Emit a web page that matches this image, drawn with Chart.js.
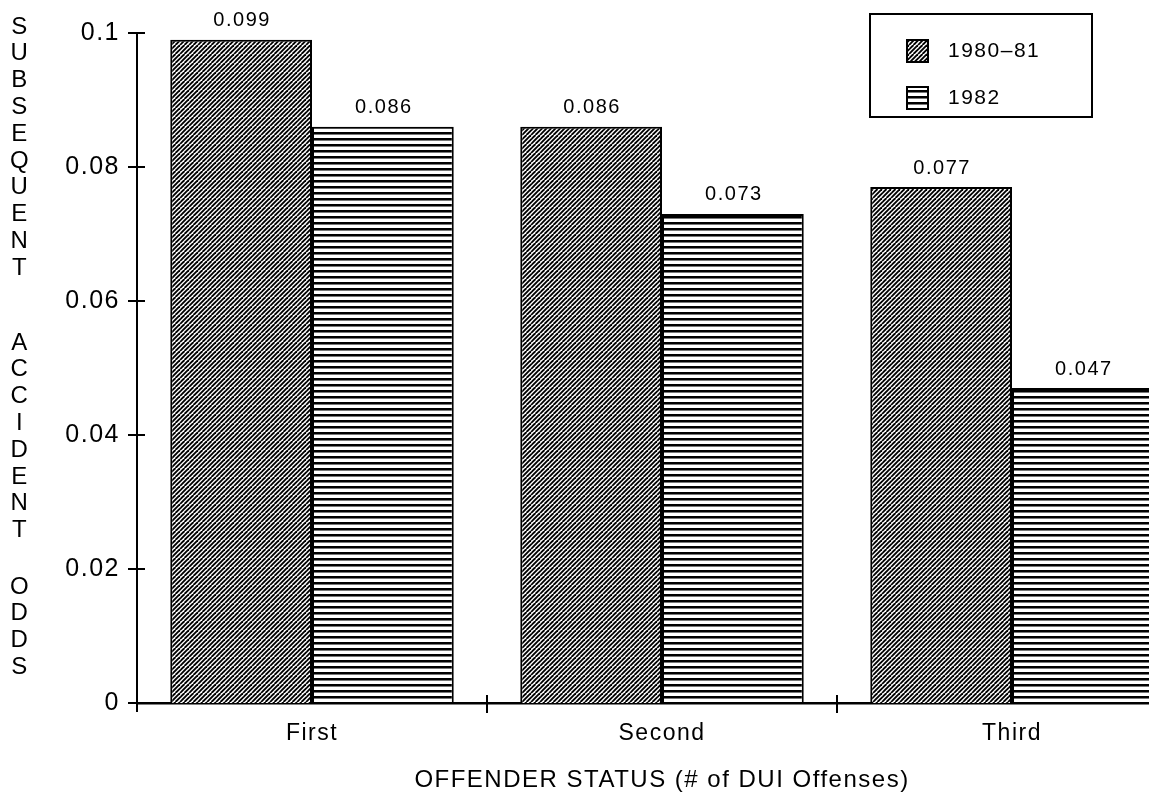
<!DOCTYPE html>
<html>
<head>
<meta charset="utf-8">
<script src="https://cdn.jsdelivr.net/npm/chart.js@4.4.1/dist/chart.umd.min.js"></script>
<style>
  html, body { margin: 0; padding: 0; background: #fff; overflow: hidden; }
</style>
</head>
<body>
<canvas id="myChart" width="1190" height="801"></canvas>
<script>
var categories = ['First', 'Second', 'Third'];
var odds8081 = [0.099, 0.086, 0.077];
var odds1982 = [0.086, 0.073, 0.047];
var yTicks = [0, 0.02, 0.04, 0.06, 0.08, 0.1];
var yTickLabels = ['0', '0.02', '0.04', '0.06', '0.08', '0.1'];
var yTitleWords = ['SUBSEQUENT', 'ACCIDENT', 'ODDS'];
var xTitle = 'OFFENDER STATUS (# of DUI Offenses)';

Chart.defaults.font.family = '"Liberation Sans", Arial, sans-serif';
Chart.defaults.color = '#000';

var ctx = document.getElementById('myChart').getContext('2d');

// diagonal "////" hatch
function hatch(ctx) {
  var c = document.createElement('canvas');
  c.width = 9; c.height = 9;
  var g = c.getContext('2d');
  g.fillStyle = '#fff';
  g.fillRect(0, 0, 9, 9);
  g.strokeStyle = '#000';
  g.lineWidth = 1.9;
  for (var k = -9; k <= 27; k += 4.5) {
    g.beginPath();
    g.moveTo(k, 0);
    g.lineTo(k - 9, 9);
    g.stroke();
  }
  return ctx.createPattern(c, 'repeat');
}

// horizontal lines
function stripes(ctx) {
  var c = document.createElement('canvas');
  c.width = 6; c.height = 6;
  var g = c.getContext('2d');
  g.fillStyle = '#fff';
  g.fillRect(0, 0, 6, 6);
  g.fillStyle = '#000';
  g.fillRect(0, 0, 6, 2);
  g.fillStyle = '#777';
  g.fillRect(0, 2, 6, 1);
  return ctx.createPattern(c, 'repeat');
}

var spacing = {
  id: 'spacing',
  beforeDraw: function(chart) { chart.ctx.letterSpacing = '1.5px'; }
};

var valueLabels = {
  id: 'valueLabels',
  afterDatasetsDraw: function(chart) {
    var c = chart.ctx;
    c.save();
    c.font = '20px "Liberation Sans", Arial, sans-serif';
    c.fillStyle = '#000';
    c.textAlign = 'center';
    c.textBaseline = 'middle';
    chart.data.datasets.forEach(function(ds, i) {
      chart.getDatasetMeta(i).data.forEach(function(bar, j) {
        c.fillText(ds.data[j].toFixed(3), bar.x + 1, bar.y - 19);
      });
    });
    c.restore();
  }
};

var crossTicks = {
  id: 'crossTicks',
  afterDraw: function(chart) {
    var c = chart.ctx, xs = chart.scales.x, ys = chart.scales.y, a = chart.chartArea;
    c.save();
    c.strokeStyle = '#000';
    c.lineWidth = 2;
    yTicks.forEach(function(v) {
      var py = ys.getPixelForValue(v);
      c.beginPath();
      c.moveTo(a.left - 9, py);
      c.lineTo(a.left + (v === 0 ? 0 : 8), py);
      c.stroke();
    });
    c.beginPath();
    c.moveTo(a.left, a.bottom);
    c.lineTo(a.left, a.bottom + 9);
    c.stroke();
    for (var i = 0; i < categories.length - 1; i++) {
      var px = (xs.getPixelForValue(i) + xs.getPixelForValue(i + 1)) / 2;
      c.beginPath();
      c.moveTo(px, a.bottom - 8);
      c.lineTo(px, a.bottom + 10);
      c.stroke();
    }
    c.restore();
  }
};

var stackedTitle = {
  id: 'stackedTitle',
  afterDraw: function(chart) {
    var c = chart.ctx;
    var starts = [27, 343, 587];
    c.save();
    c.font = '24px "Liberation Sans", Arial, sans-serif';
    c.fillStyle = '#000';
    c.textAlign = 'center';
    c.textBaseline = 'middle';
    yTitleWords.forEach(function(w, k) {
      for (var i = 0; i < w.length; i++) {
        c.fillText(w[i], 20, starts[k] + i * 26.8);
      }
    });
    c.restore();
  }
};

var boxLegend = {
  id: 'boxLegend',
  afterDraw: function(chart) {
    var c = chart.ctx;
    var bx = 870, by = 14, bw = 222, bh = 103;
    c.save();
    c.fillStyle = '#fff';
    c.fillRect(bx, by, bw, bh);
    c.strokeStyle = '#000';
    c.lineWidth = 2;
    c.strokeRect(bx, by, bw, bh);
    c.font = '21px "Liberation Sans", Arial, sans-serif';
    c.textAlign = 'left';
    c.textBaseline = 'middle';
    chart.data.datasets.forEach(function(ds, i) {
      var cy = by + 37 + i * 47;
      c.fillStyle = ds.backgroundColor;
      c.fillRect(907, cy - 11, 21, 22);
      c.strokeRect(907, cy - 11, 21, 22);
      c.fillStyle = '#000';
      c.fillText(ds.label, 948, cy);
    });
    c.restore();
  }
};

var myChart = new Chart(ctx, {
  type: 'bar',
  data: {
    labels: categories,
    datasets: [{
      label: '1980–81',
      data: odds8081,
      backgroundColor: hatch(ctx),
      borderColor: '#000',
      borderWidth: 2,
      categoryPercentage: 0.81,
      barPercentage: 1.0
    }, {
      label: '1982',
      data: odds1982,
      backgroundColor: stripes(ctx),
      borderColor: '#000',
      borderWidth: 2,
      categoryPercentage: 0.81,
      barPercentage: 1.0
    }]
  },
  options: {
    responsive: false,
    animation: false,
    layout: { padding: { top: 33, right: 3, left: 0, bottom: 0 } },
    plugins: {
      legend: { display: false },
      tooltip: { enabled: false }
    },
    scales: {
      x: {
        grid: { display: false, drawTicks: false },
        border: { display: true, color: '#000', width: 2.5 },
        ticks: { color: '#000', font: { size: 23 }, padding: 17 },
        title: {
          display: true,
          text: xTitle,
          color: '#000',
          font: { size: 24 },
          padding: { top: 0, bottom: 6 }
        },
        afterFit: function(s) { s.height = 98; }
      },
      y: {
        min: 0,
        max: 0.1,
        grid: { display: false, drawTicks: false },
        border: { display: true, color: '#000', width: 2 },
        afterBuildTicks: function(s) {
          s.ticks = yTicks.map(function(v) { return { value: v }; });
        },
        ticks: {
          color: '#000',
          font: { size: 25 },
          padding: 17,
          callback: function(v, i) { return yTickLabels[i]; }
        },
        afterFit: function(s) { s.width = 137; }
      }
    }
  },
  plugins: [spacing, valueLabels, crossTicks, stackedTitle, boxLegend]
});
</script>
</body>
</html>
